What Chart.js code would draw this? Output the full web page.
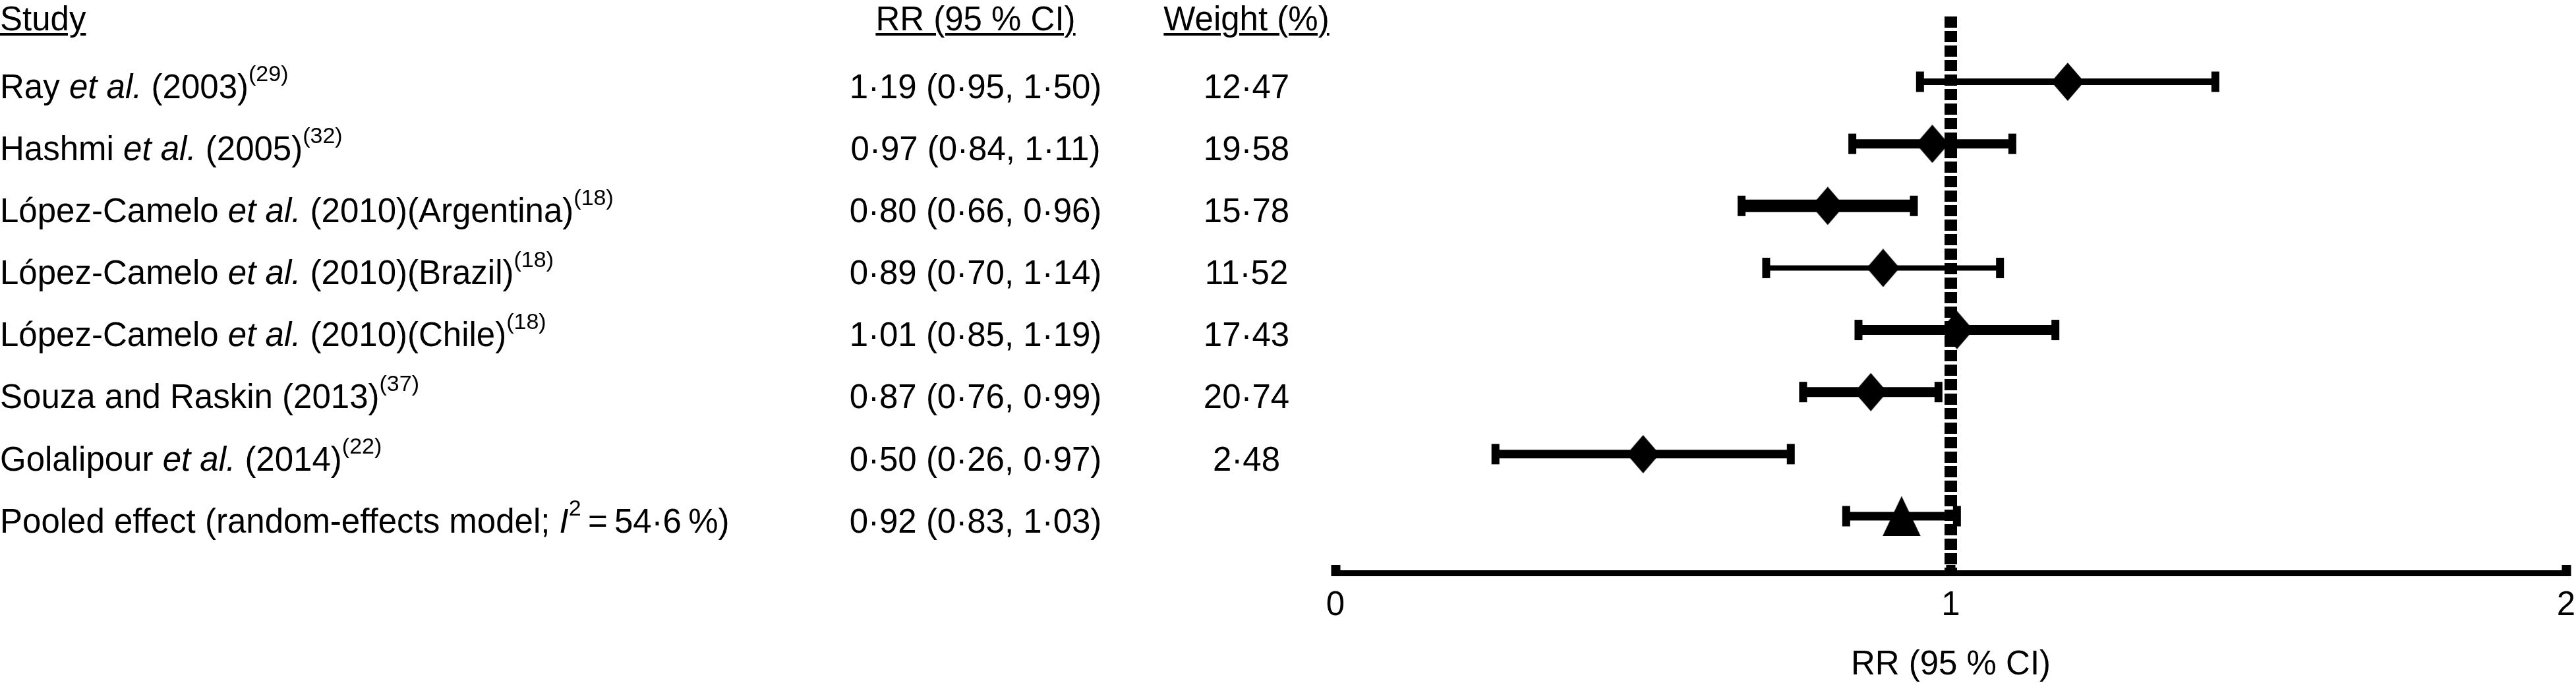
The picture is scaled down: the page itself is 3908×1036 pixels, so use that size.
<!DOCTYPE html>
<html>
<head>
<meta charset="utf-8">
<script src="https://cdn.jsdelivr.net/npm/chart.js@4.4.1/dist/chart.umd.min.js"></script>
<style>
html,body{margin:0;padding:0;background:#fff;}
#wrap{position:relative;width:3908px;height:1036px;overflow:hidden;background:#fff;}
#c{position:absolute;left:0;top:0;}
.t{position:absolute;font-family:"Liberation Sans",Arial,Helvetica,sans-serif;font-size:51px;line-height:51px;color:#000;white-space:nowrap;}
.t sup{font-size:34px;line-height:0;vertical-align:26px;}
.hdr{text-decoration:underline;text-decoration-thickness:4px;text-underline-offset:4px;}
</style>
</head>
<body>
<div id="wrap">
<canvas id="c" width="3908" height="1036"></canvas>
<div id="tbl"></div>
</div>
<script>
// ---------- data ----------
const headerStudy = 'Study';
const headerRR = 'RR (95 % CI)';
const headerWeight = 'Weight (%)';
const studyLabels = [
  'Ray <i>et al.</i> (2003)<sup>(29)</sup>',
  'Hashmi <i>et al.</i> (2005)<sup>(32)</sup>',
  'López-Camelo <i>et al.</i> (2010)(Argentina)<sup>(18)</sup>',
  'López-Camelo <i>et al.</i> (2010)(Brazil)<sup>(18)</sup>',
  'López-Camelo <i>et al.</i> (2010)(Chile)<sup>(18)</sup>',
  'Souza and Raskin (2013)<sup>(37)</sup>',
  'Golalipour <i>et al.</i> (2014)<sup>(22)</sup>',
  'Pooled effect (random-effects model; <i>I</i><sup>2</sup>\u2009=\u200954·6\u2009%)'
];
const rrText = ['1·19 (0·95, 1·50)', '0·97 (0·84, 1·11)', '0·80 (0·66, 0·96)', '0·89 (0·70, 1·14)',
                '1·01 (0·85, 1·19)', '0·87 (0·76, 0·99)', '0·50 (0·26, 0·97)', '0·92 (0·83, 1·03)'];
const weightText = ['12·47', '19·58', '15·78', '11·52', '17·43', '20·74', '2·48', ''];
const rrPoint = [1.19, 0.97, 0.80, 0.89, 1.01, 0.87, 0.50, 0.92];
const ciLower = [0.95, 0.84, 0.66, 0.70, 0.85, 0.76, 0.26, 0.83];
const ciUpperDrawn = [1.43, 1.10, 0.94, 1.08, 1.17, 0.98, 0.74, 1.01];
const xTickLabels = ['0', '1', '2'];
const xTitle = 'RR (95 % CI)';
const nullEffect = 1;

// ---------- styles ----------
const FONT = '"Liberation Sans", Arial, Helvetica, sans-serif';
const barLineWidths = [10, 14, 19, 8, 15, 15, 13, 13];
const Y_MIN = -1.052, Y_MAX = 7.914;

function makeDiamond(w, h) {
  const c = document.createElement('canvas'); c.width = w; c.height = h;
  const g = c.getContext('2d'); g.fillStyle = '#000';
  g.beginPath(); g.moveTo(w / 2, 0); g.lineTo(w, h / 2); g.lineTo(w / 2, h); g.lineTo(0, h / 2); g.closePath(); g.fill();
  return c;
}
function makeTriangle(w, h) {
  const c = document.createElement('canvas'); c.width = w; c.height = h;
  const g = c.getContext('2d'); g.fillStyle = '#000';
  g.beginPath(); g.moveTo(w / 2, 0); g.lineTo(w, h); g.lineTo(0, h); g.closePath(); g.fill();
  return c;
}
const diamondImg = makeDiamond(50, 58);
const triangleImg = makeTriangle(58, 61);

const rowIdx = studyLabels.map((_, i) => i);
const datasets = [];
// markers (drawn on top)
datasets.push({
  type: 'scatter',
  data: rowIdx.map(i => ({x: rrPoint[i], y: i})),
  pointStyle: ctx => (ctx.dataIndex === rowIdx.length - 1 ? triangleImg : diamondImg),
  pointRadius: 30, pointHoverRadius: 30,
  backgroundColor: '#000', borderColor: '#000'
});
// caps
datasets.push({
  type: 'scatter',
  data: rowIdx.flatMap(i => [{x: ciLower[i], y: i}, {x: ciUpperDrawn[i], y: i}]),
  pointStyle: 'line', pointRotation: 90, pointRadius: 15.5, pointHoverRadius: 15.5,
  pointBorderWidth: 12, pointBorderColor: '#000', pointBackgroundColor: '#000',
  borderColor: '#000', backgroundColor: '#000'
});
// CI bars
rowIdx.forEach(i => datasets.push({
  type: 'line',
  data: [{x: ciLower[i], y: i}, {x: ciUpperDrawn[i], y: i}],
  borderColor: '#000', borderWidth: barLineWidths[i], pointRadius: 0, fill: false
}));
// null-effect reference line
datasets.push({
  type: 'line',
  data: [{x: nullEffect, y: Y_MIN}, {x: nullEffect, y: Y_MAX}],
  borderColor: '#000', borderWidth: 19, borderDash: [17, 5], pointRadius: 0, fill: false, clip: false
});

const BASE_IN_BOX = 43.2; // baseline offset inside a 51px line box

const tablePlugin = {
  id: 'tablePlugin',
  afterRender(chart) {
    const ys = chart.scales.y;
    const tbl = document.getElementById('tbl');
    tbl.innerHTML = '';
    const add = (html, cls, left, width, align, baseline) => {
      const d = document.createElement('div');
      d.className = 't ' + cls;
      d.innerHTML = html;
      d.style.left = left + 'px';
      if (width) d.style.width = width + 'px';
      d.style.textAlign = align;
      d.style.top = (baseline - BASE_IN_BOX) + 'px';
      tbl.appendChild(d);
    };
    const hb = ys.top + 21;
    add(headerStudy, 'hdr', 0, 0, 'left', hb);
    add('<span class="hdr">' + headerRR + '</span>', '', 1180, 600, 'center', hb);
    add('<span class="hdr">' + headerWeight + '</span>', '', 1691, 400, 'center', hb);
    rowIdx.forEach(i => {
      const b = ys.getPixelForValue(i) + 25;
      add(studyLabels[i], '', 0, 0, 'left', b);
      add(rrText[i], '', 1180, 600, 'center', b);
      add(weightText[i], '', 1691, 400, 'center', b);
    });
  }
};

new Chart(document.getElementById('c'), {
  data: {datasets},
  options: {
    responsive: false,
    animation: false,
    devicePixelRatio: 1,
    events: [],
    layout: {autoPadding: false, padding: {left: 2026, right: 15, top: 25, bottom: 0}},
    plugins: {legend: {display: false}, tooltip: {enabled: false}, title: {display: false}},
    scales: {
      x: {
        type: 'linear', position: 'bottom', min: 0, max: 2,
        ticks: {
          stepSize: 1, padding: 31, color: '#000', maxRotation: 0, autoSkip: false,
          font: {family: FONT, size: 51},
          callback: v => (xTickLabels[v] !== undefined ? xTickLabels[v] : '')
        },
        grid: {display: true, drawOnChartArea: false, drawTicks: true, tickLength: -12, tickWidth: 14, tickColor: '#000'},
        border: {display: true, width: 9, color: '#000'},
        title: {display: true, text: xTitle, color: '#000', font: {family: FONT, size: 51, lineHeight: 1}, padding: {top: 0, bottom: 2}},
        afterFit: s => { s.height = 167; s.paddingLeft = 0; s.paddingRight = 0; }
      },
      y: {type: 'linear', reverse: true, min: Y_MIN, max: Y_MAX, display: false}
    }
  },
  plugins: [tablePlugin]
});
</script>
</body>
</html>
